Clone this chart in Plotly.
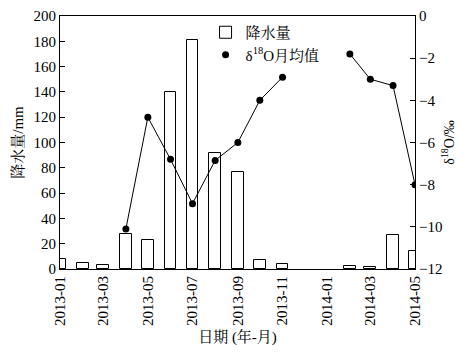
import plotly.graph_objects as go

months = ["2013-01", "2013-02", "2013-03", "2013-04", "2013-05", "2013-06", "2013-07",
          "2013-08", "2013-09", "2013-10", "2013-11", "2013-12", "2014-01", "2014-02",
          "2014-03", "2014-04", "2014-05"]
precip = [8, 5, 3, 28, 23, 140, 181, 92, 77, 7, 4, None, None, 2, 1.5, 27, 14]
d18o = [None, None, None, -10.1, -4.8, -6.8, -8.9, -6.85, -6.0, -4.0, -2.9, None, None,
        -1.8, -3.0, -3.3, -8.0]

dates = [m + "-01" for m in months]
FONT = "Liberation Serif, Times New Roman, Noto Serif CJK SC, Noto Sans CJK SC, serif"

fig = go.Figure()
fig.add_trace(go.Bar(
    x=dates, y=precip, name="降水量",
    marker=dict(color="white", line=dict(color="black", width=1)),
    width=16 * 86400000, yaxis="y",
))
fig.add_trace(go.Scatter(
    x=dates, y=d18o, mode="lines", yaxis="y2", showlegend=False,
    line=dict(color="black", width=1), connectgaps=False,
))
fig.add_trace(go.Scatter(
    x=dates, y=d18o, mode="markers", yaxis="y2", name="δ<sup>18</sup>O月均值",
    marker=dict(color="black", size=7),
))

# page body has an 8px margin; figure sized/margined to compensate
fig.update_layout(
    width=465, height=347,
    margin=dict(l=52, r=58, t=8, b=86),
    paper_bgcolor="white", plot_bgcolor="white",
    font=dict(family=FONT, size=15, color="black"),
    showlegend=True,
    legend=dict(x=0.41, y=1.0, xanchor="left", yanchor="top", bgcolor="rgba(0,0,0,0)",
                font=dict(size=15), tracegroupgap=0, itemwidth=30),
    xaxis=dict(
        type="date", range=["2013-01-01", "2014-05-01"], automargin=False,
        tickformat="%Y-%m", dtick="M2", tick0="2013-01-01", tickangle=-90,
        tickfont=dict(size=15),
        showline=True, linecolor="black", linewidth=1, mirror=True,
        showgrid=False, ticks="", zeroline=False,
        title=dict(text="日期 (年-月)", standoff=6, font=dict(size=15)),
    ),
    yaxis=dict(
        range=[0, 200], dtick=20, ticks="inside", ticklen=5, tickcolor="black",
        automargin=False, tickfont=dict(size=15),
        showline=True, linecolor="black", linewidth=1, showgrid=False, zeroline=False,
        title=dict(text="降水量/mm", standoff=6, font=dict(size=15)),
    ),
    yaxis2=dict(
        range=[-12, 0], dtick=2, overlaying="y", side="right", automargin=False,
        ticks="inside", ticklen=5, tickcolor="black", tickfont=dict(size=15),
        showline=True, linecolor="black", linewidth=1, showgrid=False, zeroline=False,
        title=dict(text="δ<sup>18</sup>O/‰", standoff=2, font=dict(size=14)),
    ),
    bargap=0,
)

fig.write_html("out.html")
